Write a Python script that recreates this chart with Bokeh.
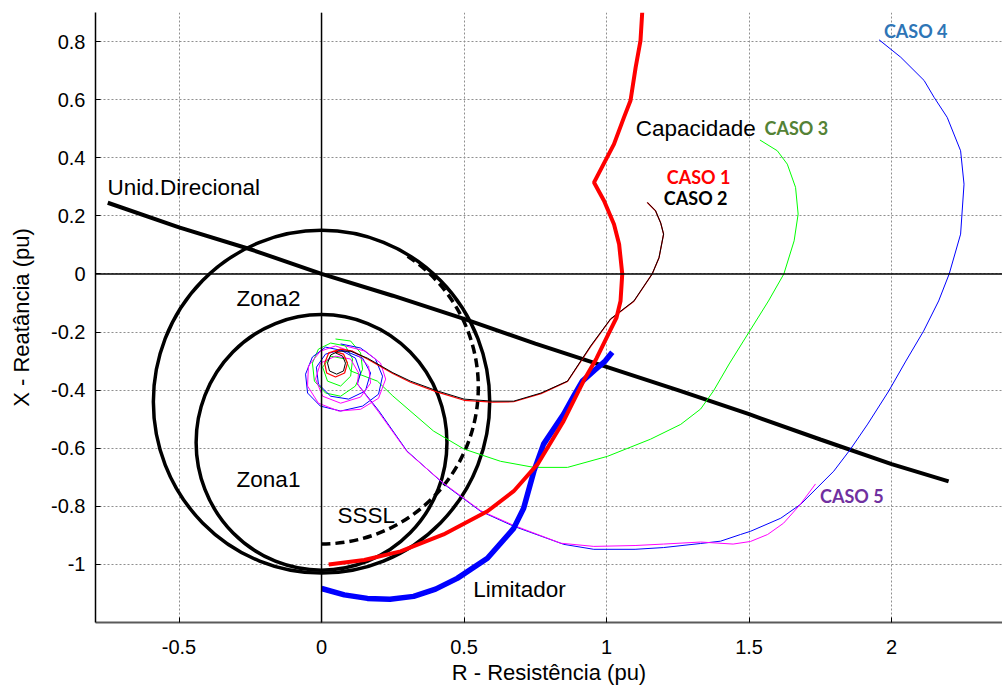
from bokeh.plotting import figure
from bokeh.models import Range1d, FixedTicker, CustomJSTickFormatter, Span, Label
from bokeh.embed import file_html
from bokeh.resources import INLINE
import math

# ---------------- data ----------------
x_ticks = [-0.5, 0, 0.5, 1, 1.5, 2]
y_ticks = [-1, -0.8, -0.6, -0.4, -0.2, 0, 0.2, 0.4, 0.6, 0.8]

# Unid. Direcional (straight-ish line through origin)
dir_r = [-0.75, -0.5, -0.25, 0.0, 0.25, 0.5, 0.75, 1.0, 1.25, 1.5, 1.75, 2.0, 2.2]
dir_x = [0.245, 0.16, 0.085, 0.0, -0.075, -0.155, -0.24, -0.32, -0.4, -0.483, -0.57, -0.655, -0.714]

# Zone circles (center R, center X, diameter)
zona2 = (0.0, -0.44, 1.18)
zona1 = (0.0, -0.58, 0.88)
# SSSL arc (center R, center X, radius, start deg, end deg)
sssl = (0.0, -0.39, 0.55, -90, 57)

# Capacidade (thick red)
cap_r = [0.025, 0.15, 0.277, 0.428, 0.582, 0.674, 0.758, 0.849, 0.919, 0.965,
         1.005, 1.035, 1.049, 1.055, 1.044, 1.026, 0.991, 0.956, 1.026, 1.061,
         1.084, 1.102, 1.119, 1.125]
cap_x = [-1.0, -0.985, -0.955, -0.897, -0.817, -0.748, -0.655, -0.507, -0.369, -0.29,
         -0.21, -0.15, -0.093, 0.0, 0.102, 0.171, 0.252, 0.315, 0.447, 0.539,
         0.597, 0.711, 0.803, 0.9]

# Limitador (thick blue)
lim_r = [0.0, 0.08, 0.161, 0.24, 0.323, 0.4, 0.476, 0.582, 0.674, 0.709, 0.745, 0.779,
         0.849, 0.885, 0.915, 0.96, 0.995, 1.02]
lim_x = [-1.083, -1.105, -1.117, -1.12, -1.11, -1.085, -1.048, -0.979, -0.876, -0.807, -0.679, -0.586,
         -0.483, -0.42, -0.369, -0.33, -0.3, -0.27]

# CASO 1 (red thin)
c1_r = [0.042, 0.077, 0.091, 0.081, 0.049, 0.018, 0.011, 0.025, 0.067, 0.109,
        0.161, 0.25, 0.312, 0.407, 0.5, 0.6, 0.674, 0.77, 0.863, 0.944,
        1.014, 1.096, 1.16, 1.184, 1.2, 1.19, 1.172, 1.143]
c1_x = [-0.266, -0.276, -0.307, -0.341, -0.355, -0.341, -0.307, -0.272, -0.259, -0.266,
        -0.293, -0.343, -0.373, -0.407, -0.435, -0.441, -0.44, -0.412, -0.37, -0.25,
        -0.156, -0.094, 0.0, 0.056, 0.137, 0.175, 0.217, 0.246]

# CASO 2 (black thin)
c2_r = [0.049, 0.074, 0.084, 0.077, 0.053, 0.028, 0.021, 0.032, 0.060, 0.102,
        0.161, 0.25, 0.312, 0.407, 0.5, 0.6, 0.674, 0.77, 0.863, 0.944,
        1.014, 1.096, 1.16, 1.184, 1.2, 1.19, 1.172, 1.143]
c2_x = [-0.272, -0.283, -0.307, -0.334, -0.345, -0.334, -0.307, -0.279, -0.266, -0.266,
        -0.29, -0.34, -0.369, -0.403, -0.431, -0.438, -0.438, -0.41, -0.369, -0.248,
        -0.155, -0.093, 0.0, 0.056, 0.137, 0.175, 0.217, 0.246]

# CASO 3 (green)
c3_r = [0.049, 0.102, 0.137, 0.144, 0.119, 0.067, 0.014, -0.025, -0.032, -0.011,
        0.032, 0.084, 0.109, 0.102, 0.067, 0.021, 0.004, 0.032, 0.084, 0.102,
        0.196, 0.25, 0.393, 0.5, 0.628, 0.745, 0.863, 1.003, 1.154, 1.26, 1.33,
        1.375, 1.43, 1.498, 1.568, 1.622, 1.658, 1.672, 1.663, 1.634, 1.599, 1.538]
c3_x = [-0.224, -0.231, -0.272, -0.328, -0.386, -0.421, -0.41, -0.369, -0.307, -0.259,
        -0.238, -0.248, -0.293, -0.352, -0.386, -0.369, -0.321, -0.283, -0.293, -0.334,
        -0.369, -0.42, -0.541, -0.603, -0.645, -0.666, -0.666, -0.628, -0.569, -0.518, -0.465,
        -0.403, -0.31, -0.203, -0.093, 0.0, 0.114, 0.206, 0.298, 0.378, 0.424, 0.461]

# CASO 4 (blue thin)
c4_r = [0.067, 0.137, 0.189, 0.214, 0.2, 0.144, 0.067, -0.004, -0.049, -0.056, -0.032, 0.014,
        0.084, 0.144, 0.172, 0.154, 0.095, 0.032, -0.011, -0.018, 0.014, 0.067,
        0.119, 0.137, 0.126,
        0.2, 0.3, 0.43, 0.558, 0.675, 0.85, 0.955, 1.1, 1.2, 1.33,
        1.4, 1.47, 1.505, 1.611, 1.681, 1.797, 1.856, 1.916, 1.99, 2.05,
        2.112, 2.165, 2.202, 2.242, 2.254, 2.242, 2.195, 2.149, 2.114, 2.032, 1.956]
c4_x = [-0.241, -0.255, -0.293, -0.352, -0.414, -0.455, -0.472, -0.455, -0.41, -0.345, -0.286, -0.252,
        -0.266, -0.29, -0.341, -0.403, -0.431, -0.421, -0.379, -0.321, -0.276, -0.262,
        -0.29, -0.341, -0.379,
        -0.47, -0.61, -0.724, -0.817, -0.869, -0.931, -0.948, -0.948, -0.942, -0.928,
        -0.92, -0.897, -0.886, -0.841, -0.793, -0.679, -0.603, -0.517, -0.403, -0.3,
        -0.197, -0.093, 0.0, 0.137, 0.309, 0.424, 0.539, 0.608, 0.666, 0.746, 0.806]

# CASO 5 (magenta)
c5_r = [0.084, 0.154, 0.207, 0.225, 0.2, 0.137, 0.06, -0.011, -0.049, -0.046,
        -0.004, 0.049, 0.119, 0.165, 0.172, 0.137, 0.067, 0.004, -0.021, -0.004,
        0.049, 0.102, 0.13, 0.126,
        0.2, 0.3, 0.43, 0.558, 0.675, 0.839, 0.955, 1.1, 1.2, 1.33,
        1.444, 1.505, 1.565, 1.621, 1.68, 1.733]
c5_x = [-0.248, -0.266, -0.307, -0.362, -0.428, -0.466, -0.472, -0.445, -0.386, -0.317,
        -0.266, -0.248, -0.272, -0.317, -0.376, -0.424, -0.445, -0.421, -0.362, -0.307,
        -0.283, -0.293, -0.341, -0.379,
        -0.475, -0.612, -0.722, -0.815, -0.866, -0.927, -0.938, -0.935, -0.93, -0.923,
        -0.93, -0.921, -0.897, -0.858, -0.793, -0.723]

# Text annotations: (text, R, X)
plain_labels = [("Unid.Direcional", -0.751, 0.297), ("Zona2", -0.298, -0.083),
                ("Zona1", -0.298, -0.707), ("SSSL", 0.056, -0.83),
                ("Capacidade", 1.102, 0.499), ("Limitador", 0.532, -1.087)]
caso_labels = [("CASO 1", 1.211, 0.332, "#ff0000"), ("CASO 2", 1.201, 0.261, "#000000"),
               ("CASO 3", 1.554, 0.503, "#548235"), ("CASO 4", 1.973, 0.838, "#2e75b6"),
               ("CASO 5", 1.749, -0.766, "#7030a0")]

# ---------------- figure ----------------
p = figure(width=1002, height=689, x_range=Range1d(-0.793, 2.389), y_range=Range1d(-1.2, 0.9),
           output_backend="svg", toolbar_location=None,
           min_border_left=95, min_border_right=0, min_border_top=12, min_border_bottom=67,
           x_axis_label="R - Resistência (pu)", y_axis_label="X - Reatância (pu)")
p.outline_line_color = None
p.background_fill_color = "white"
p.border_fill_color = "white"

fmt = CustomJSTickFormatter(code="return Number(tick.toFixed(1)).toString();")
for ax, ticks in ((p.xaxis[0], x_ticks), (p.yaxis[0], y_ticks)):
    ax.ticker = FixedTicker(ticks=ticks)
    ax.formatter = fmt
    ax.major_tick_in = 5
    ax.major_tick_out = 0
    ax.minor_tick_line_color = None
    ax.major_tick_line_color = "black"
    ax.major_label_text_font = "Liberation Sans"
    ax.major_label_text_font_size = "20px"
    ax.major_label_text_color = "black"
    ax.axis_label_text_font = "Liberation Sans"
    ax.axis_label_text_font_size = "22px"
    ax.axis_label_text_font_style = "normal"
    ax.axis_label_text_color = "black"

p.xaxis.axis_line_color = "#5a5a5a"
p.xaxis.axis_line_width = 2
p.xaxis.major_label_standoff = 17
p.xaxis.axis_label_standoff = 3
p.yaxis.axis_line_color = "black"
p.yaxis.axis_line_width = 1.5
p.yaxis.major_label_standoff = 10
p.yaxis.axis_label_standoff = 14

p.xgrid.ticker = FixedTicker(ticks=x_ticks)
p.ygrid.ticker = FixedTicker(ticks=y_ticks)
for g in (p.xgrid, p.ygrid):
    g.grid_line_color = "#8f8f8f"
    g.grid_line_dash = "2 2"
    g.grid_line_width = 1

# axes of the R-X plane
p.add_layout(Span(location=0, dimension="height", line_color="black", line_width=1.5))
p.add_layout(Span(location=0, dimension="width", line_color="black", line_width=1.5))

# zone circles & SSSL
for cx, cy, d in (zona2, zona1):
    p.ellipse(x=[cx], y=[cy], width=[d], height=[d], fill_color=None,
              line_color="black", line_width=3.5)
p.arc(x=[sssl[0]], y=[sssl[1]], radius=sssl[2],
      start_angle=math.radians(sssl[3]), end_angle=math.radians(sssl[4]),
      line_color="black", line_width=3.5, line_dash="9 5")

# direcional
p.line(dir_r, dir_x, line_color="black", line_width=4)

# cases (thin)
p.line(c3_r, c3_x, line_color="#00ff00", line_width=1)
p.line(c4_r, c4_x, line_color="#0000ff", line_width=1)
p.line(c5_r, c5_x, line_color="#ff00ff", line_width=1)
p.line(c1_r, c1_x, line_color="#ff0000", line_width=1.2)
p.line(c2_r, c2_x, line_color="#000000", line_width=1)

# limits (thick)
p.line(lim_r, lim_x, line_color="#0000ff", line_width=5.5)
p.line(cap_r, cap_x, line_color="#ff0000", line_width=4)

for t, x, y in plain_labels:
    p.add_layout(Label(x=x, y=y, text=t, text_font="Liberation Sans", text_font_size="22.5px",
                       text_color="black", text_baseline="middle", text_align="left"))
for t, x, y, c in caso_labels:
    p.add_layout(Label(x=x, y=y, text=t, text_font="Lato", text_font_size="18px",
                       text_font_style="bold", text_color=c,
                       text_baseline="middle", text_align="left"))

open("out.html", "w").write(file_html(p, INLINE))
